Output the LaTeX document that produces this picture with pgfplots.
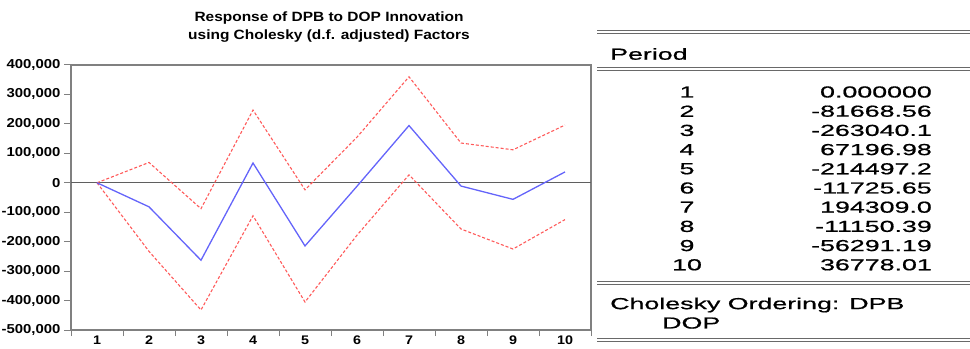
\documentclass[border=0pt]{standalone}
\usepackage{fontspec}
\setmainfont{Liberation Sans}
\newfontfamily\tabfont[FakeStretch=1.68, FakeBold=0.8]{Liberation Sans}
\newfontfamily\chartfont[FakeStretch=1.15]{Liberation Sans Bold}
\usepackage{pgfplots}
\pgfplotsset{compat=1.18}
\usepackage{pgfplotstable}

\definecolor{axgray}{RGB}{128,128,128}
\definecolor{zgray}{RGB}{95,95,95}
\definecolor{irblue}{RGB}{100,100,250}
\definecolor{irred}{RGB}{255,90,90}
\definecolor{tabgray}{RGB}{105,105,105}

\pgfplotstableread{
period resp upper lower
1 0 0 0
2 -81668.56 69000 -233000
3 -263040.1 -88000 -432000
4 67196.98 247000 -112000
5 -214497.2 -24000 -405000
6 -11725.65 155000 -178000
7 194309.0 360000 27000
8 -11150.39 135000 -157000
9 -56291.19 112000 -225000
10 36778.01 196000 -125000
}\irf

\newcommand{\dline}[1]{%
  \draw[tabgray, line width=1.1bp] (597bp,#1bp+1.3bp) -- (970bp,#1bp+1.3bp);
  \draw[tabgray, line width=0.9bp] (597bp,#1bp-1.3bp) -- (970bp,#1bp-1.3bp);}

\begin{document}
\begin{tikzpicture}
\useasboundingbox (0,0) rectangle (970bp,349bp);
\begin{axis}[
  at={(71bp,19bp)}, anchor=south west,
  scale only axis, width=520bp, height=265bp,
  xmin=0.5, xmax=10.5, ymin=-500000, ymax=400000,
  axis line style={axgray, line width=1.3bp},
  tick align=outside,
  xtick pos=bottom, ytick pos=left,
  xtick={1,...,10},
  xticklabels={1,2,3,4,5,6,7,8,9,10},
  minor xtick={0.5,1.5,...,10.5},
  major x tick style={draw=none},
  minor x tick style={draw=axgray, line width=1bp},
  minor tick length=6bp,
  major tick length=7bp,
  ytick style={draw=axgray, line width=1bp},
  ytick={-500000,-400000,-300000,-200000,-100000,0,100000,200000,300000,400000},
  yticklabels={{-500,000},{-400,000},{-300,000},{-200,000},{-100,000},{0},{100,000},{200,000},{300,000},{400,000}},
  xticklabel style={font=\chartfont\fontsize{12.5}{12.5}\selectfont, inner sep=0pt, yshift=1bp},
  yticklabel style={font=\chartfont\fontsize{13}{13}\selectfont},
  scaled y ticks=false,
  clip=false,
]
\addplot[zgray, line width=1.4bp, forget plot] coordinates {(0.5,0) (10.5,0)};
\addplot[irred, line width=1.1bp, dash pattern=on 3bp off 2bp] table[x=period, y=upper] {\irf};
\addplot[irred, line width=1.1bp, dash pattern=on 3bp off 2bp] table[x=period, y=lower] {\irf};
\addplot[irblue, line width=1.3bp] table[x=period, y=resp] {\irf};
\end{axis}

\node[font=\chartfont\fontsize{13.5}{18}\selectfont, align=center] at (329bp,322bp)
  {Response of DPB to DOP Innovation\\using Cholesky (d.f. adjusted) Factors};

% table
\dline{317}
\dline{280}
\dline{66}
\dline{9}
\begin{scope}[every node/.style={font=\tabfont\fontsize{16}{19}\selectfont, inner sep=0pt}]
\node[anchor=west] at (610bp,295bp) {Period};
\node at (687bp,257bp) {1};   \node[anchor=east] at (932bp,257bp) {0.000000};
\node at (687bp,237.8bp) {2}; \node[anchor=east] at (932bp,237.8bp) {-81668.56};
\node at (687bp,218.6bp) {3}; \node[anchor=east] at (932bp,218.6bp) {-263040.1};
\node at (687bp,199.4bp) {4}; \node[anchor=east] at (932bp,199.4bp) {67196.98};
\node at (687bp,180.2bp) {5}; \node[anchor=east] at (932bp,180.2bp) {-214497.2};
\node at (687bp,161bp) {6};   \node[anchor=east] at (932bp,161bp) {-11725.65};
\node at (687bp,141.8bp) {7}; \node[anchor=east] at (932bp,141.8bp) {194309.0};
\node at (687bp,122.6bp) {8}; \node[anchor=east] at (932bp,122.6bp) {-11150.39};
\node at (687bp,103.4bp) {9}; \node[anchor=east] at (932bp,103.4bp) {-56291.19};
\node at (687bp,84.2bp) {10}; \node[anchor=east] at (932bp,84.2bp) {36778.01};
\node[anchor=west] at (610bp,44bp) {Cholesky Ordering: DPB};
\node[anchor=west] at (662bp,26bp) {DOP};
\end{scope}
\end{tikzpicture}
\end{document}
